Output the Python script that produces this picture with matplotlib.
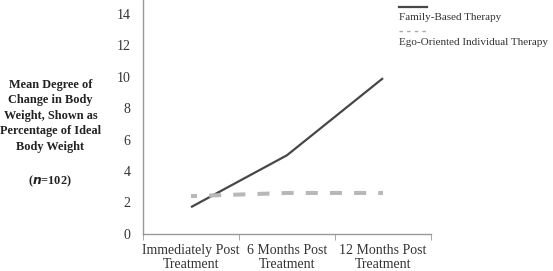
import matplotlib
matplotlib.use("Agg")
import matplotlib.pyplot as plt

plt.rcParams["font.family"] = ["Liberation Serif", "DejaVu Serif"]

# data
categories = ["Immediately Post\nTreatment", "6 Months Post\nTreatment", "12 Months Post\nTreatment"]
family_based = [1.7, 5.0, 9.9]
ego_oriented = [2.4, 2.6, 2.6]
series_names = ["Family-Based Therapy", "Ego-Oriented Individual Therapy"]
y_ticks = [0, 2, 4, 6, 8, 10, 12, 14]

fig = plt.figure(figsize=(5.53, 2.71), dpi=100)
ax = fig.add_axes([0.2586, 0.137, 0.5208, 0.863])

x = list(range(len(categories)))
ax.plot(x, family_based, color="#474747", lw=1.6, solid_capstyle="butt")
ax.plot(x, ego_oriented, color="#b8b8b8", lw=2.9, linestyle=(1.5, (3, 3)),
        dash_capstyle="butt")

ax.set_xlim(-0.5, 2.5)
ax.set_ylim(0, 14.87)
ax.set_yticks(y_ticks)
ax.set_xticks(x)
ax.set_xticklabels(categories, fontsize=10, color="#333333", linespacing=1.15)
ax.set_xticks([-0.5, 0.5, 1.5, 2.5], minor=True)
ax.tick_params(axis="x", which="major", length=0, pad=7)
ax.tick_params(axis="x", which="minor", length=4, color="#999999", direction="out")
ax.tick_params(axis="y", length=0, pad=9, labelsize=10, labelcolor="#333333")

for side in ["top", "right"]:
    ax.spines[side].set_visible(False)
for side in ["left", "bottom"]:
    ax.spines[side].set_color("#999999")
    ax.spines[side].set_linewidth(1.0)

# legend, line above each label
lx0, lx1 = 0.721, 0.773
fig.add_artist(plt.Line2D([lx0, lx1], [0.974, 0.974], color="#474747", lw=1.6,
                          transform=fig.transFigure))
fig.text(lx0, 0.935, series_names[0], fontsize=8, color="#333333", va="center")
fig.add_artist(plt.Line2D([lx0, lx1], [0.885, 0.885], color="#aaaaaa", lw=1.0,
                          linestyle=(0, (2.5, 3)), transform=fig.transFigure))
fig.text(lx0, 0.845, series_names[1], fontsize=8, color="#333333", va="center")

# y-axis title
fig.text(0.091, 0.573, "Mean Degree of\nChange in Body\nWeight, Shown as\nPercentage of Ideal\nBody Weight",
         ha="center", va="center", fontsize=8.8, fontweight="bold", color="#222222",
         linespacing=1.4)
fig.text(0.091, 0.332, r"($\mathbfit{n}$=102)", ha="center", va="center", fontsize=8.8,
         fontweight="bold", color="#222222")

fig.savefig("out.png", dpi=100)
